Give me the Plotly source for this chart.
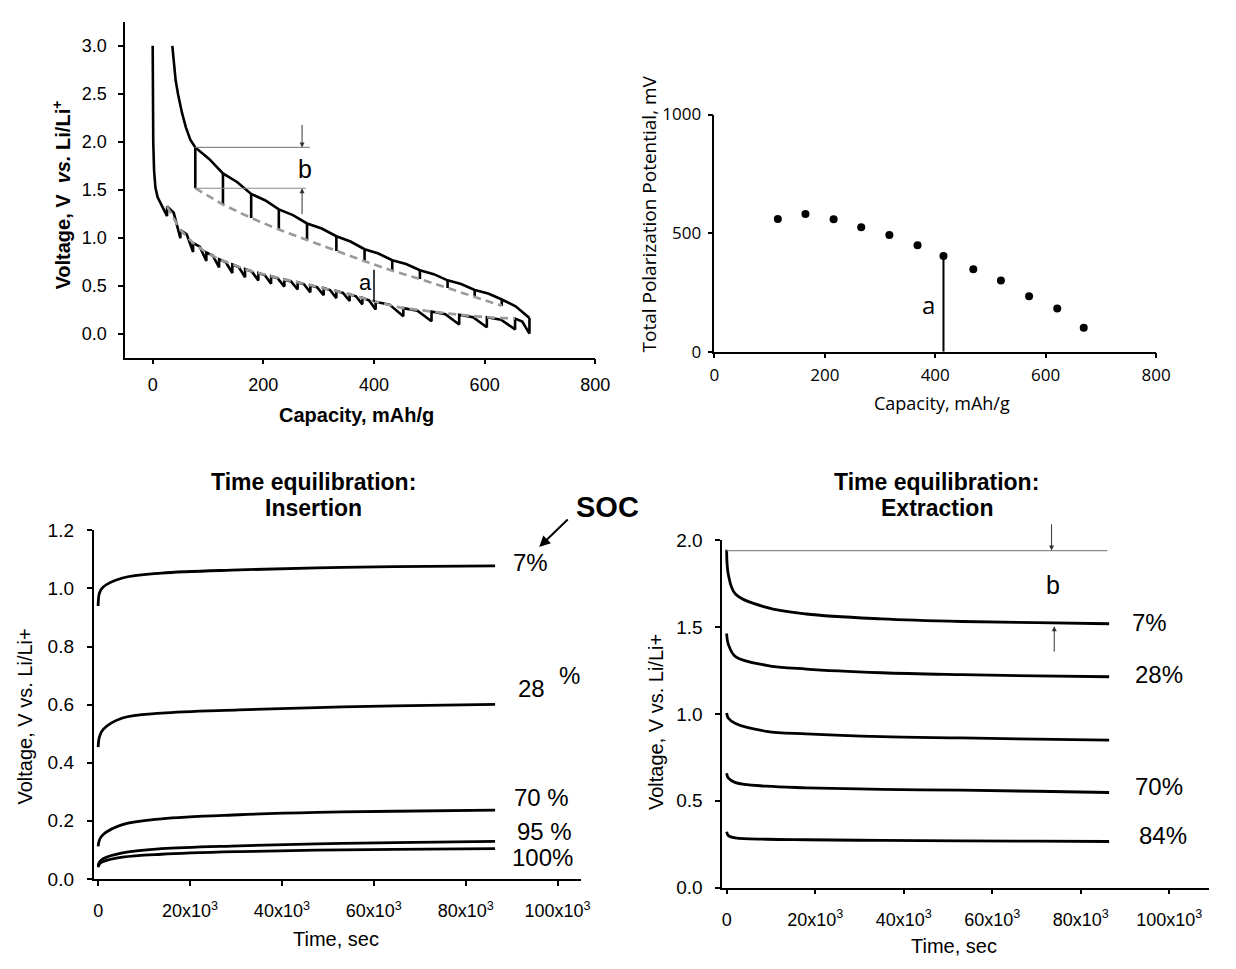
import plotly.graph_objects as go

W, H = 1236, 969
ARIAL = "Liberation Sans, Arial, sans-serif"
MYRIAD = "Open Sans, sans-serif"

# ---------------- panel 1 : GITT voltage profile ----------------
# discharge (lower) branch
dis_start_cap = [0, 0.3, 1, 2.5, 5, 9, 17]
dis_start_v = [3.0, 2.5, 2.0, 1.7, 1.52, 1.42, 1.32]
dis_cap = [26, 50, 73, 97, 120, 144, 167, 191, 214, 238, 262, 285, 309, 332,
           356, 379, 403, 453, 504, 554, 604, 655]
dis_relax_v = [1.325, 1.08, 0.945, 0.845, 0.775, 0.72, 0.672, 0.632, 0.597, 0.565,
               0.535, 0.505, 0.475, 0.445, 0.41, 0.372, 0.332, 0.265, 0.23, 0.197,
               0.17, 0.156]
dis_pulse_v = [1.225, 0.995, 0.85, 0.757, 0.69, 0.632, 0.587, 0.553, 0.52, 0.49,
               0.46, 0.43, 0.40, 0.37, 0.34, 0.305, 0.25, 0.18, 0.128, 0.095,
               0.067, 0.044]
dis_mid_v = [1.259, 1.034, 0.907, 0.814, 0.746, 0.693, 0.648, 0.61, 0.576, 0.544,
             0.514, 0.484, 0.454, 0.424, 0.389, 0.348, 0.302, 0.238, 0.203, 0.171,
             0.145, 0.125]
dis_end_cap = 681
dis_end_v = [0.0, 0.163]

# charge (upper) branch
chg_start_cap = [35.5, 38, 41.5, 46, 53, 60, 68]
chg_start_v = [3.0, 2.83, 2.64, 2.49, 2.3, 2.15, 2.02]
chg_cap = [77, 127, 178, 228, 279, 332, 383, 433, 483, 533, 582, 631]
chg_top_v = [1.94, 1.67, 1.455, 1.295, 1.148, 1.015, 0.88, 0.765, 0.66, 0.555, 0.455, 0.355]
chg_relax_v = [1.515, 1.345, 1.205, 1.085, 0.975, 0.86, 0.755, 0.655, 0.57, 0.475, 0.385, 0.29]
chg_mid_v = [1.82, 1.58, 1.39, 1.235, 1.095, 0.96, 0.835, 0.725, 0.62, 0.517, 0.417, 0.285]

# ---------------- panel 2 : total polarization ----------------
pol_cap = [115, 165, 216, 266, 317, 368, 415, 469, 519, 570, 621, 669]
pol_mv = [560, 581, 559, 525, 492, 449, 404, 348, 300, 234, 182, 101]

# ---------------- panel 3 : insertion relaxation ----------------
t_ins = [0, 300, 1100, 5300, 13800, 30700, 47600, 64500, 86400]
ins_curves = {
    "7%": [0.94, 0.985, 1.005, 1.036, 1.053, 1.064, 1.071, 1.075, 1.078],
    "28%": [0.454, 0.49, 0.515, 0.554, 0.571, 0.582, 0.59, 0.596, 0.601],
    "70%": [0.112, 0.135, 0.153, 0.187, 0.207, 0.221, 0.229, 0.233, 0.237],
    "95%": [0.045, 0.058, 0.07, 0.09, 0.104, 0.114, 0.121, 0.125, 0.129],
    "100%": [0.04, 0.052, 0.06, 0.075, 0.085, 0.094, 0.099, 0.102, 0.104],
}

# ---------------- panel 4 : extraction relaxation ----------------
t_ext = [0, 400, 2000, 9000, 18000, 35000, 53000, 70000, 86400]
ext_curves = {
    "7%": [1.945, 1.80, 1.69, 1.613, 1.575, 1.547, 1.532, 1.525, 1.519],
    "28%": [1.463, 1.40, 1.33, 1.28, 1.258, 1.237, 1.226, 1.219, 1.214],
    "49%": [1.005, 0.975, 0.945, 0.90, 0.885, 0.869, 0.862, 0.855, 0.849],
    "70%": [0.659, 0.63, 0.605, 0.584, 0.575, 0.566, 0.561, 0.555, 0.548],
    "84%": [0.322, 0.30, 0.287, 0.279, 0.276, 0.272, 0.27, 0.268, 0.266],
}

time_ticks = [0, 20000, 40000, 60000, 80000, 100000]
time_ticktext = ["0", "20x10<sup>3</sup>", "40x10<sup>3</sup>", "60x10<sup>3</sup>",
                 "80x10<sup>3</sup>", "100x10<sup>3</sup>"]


def px_x(p):
    return p / W


def px_y(p):
    return 1 - p / H


fig = go.Figure()

# ---- panel 1 traces
xs, ys = list(dis_start_cap), list(dis_start_v)
nxt = dis_cap[1:] + [dis_end_cap]
for c, lo, hi, m, n in zip(dis_cap, dis_pulse_v, dis_relax_v, dis_mid_v, nxt):
    xs += [c, c, (c + n) / 2]
    ys += [lo, hi, m]
xs += [dis_end_cap, dis_end_cap]
ys += dis_end_v
fig.add_trace(go.Scatter(x=xs, y=ys, mode="lines", line=dict(color="black", width=2.6),
                         xaxis="x", yaxis="y"))

xs, ys = list(chg_start_cap), list(chg_start_v)
nxt = chg_cap[1:] + [dis_end_cap]
for c, t, m, n in zip(chg_cap, chg_top_v, chg_mid_v, nxt):
    xs += [c, (c + n) / 2]
    ys += [t, m]
xs += [dis_end_cap]
ys += [dis_end_v[1]]
fig.add_trace(go.Scatter(x=xs, y=ys, mode="lines", line=dict(color="black", width=2.6),
                         xaxis="x", yaxis="y"))

vx, vy = [], []
for c, t, b in zip(chg_cap, chg_top_v, chg_relax_v):
    vx += [c, c, None]
    vy += [t, b, None]
fig.add_trace(go.Scatter(x=vx, y=vy, mode="lines", line=dict(color="black", width=2.6),
                         xaxis="x", yaxis="y"))

fig.add_trace(go.Scatter(x=dis_cap, y=dis_relax_v, mode="lines",
                         line=dict(color="#9a9a9a", width=2.6, dash="8px,5px"),
                         xaxis="x", yaxis="y"))
fig.add_trace(go.Scatter(x=chg_cap, y=chg_relax_v, mode="lines",
                         line=dict(color="#9a9a9a", width=2.6, dash="8px,5px"),
                         xaxis="x", yaxis="y"))

# ---- panel 2
fig.add_trace(go.Scatter(x=pol_cap, y=pol_mv, mode="markers",
                         marker=dict(color="black", size=8), xaxis="x2", yaxis="y2"))

# ---- panel 3
for name, v in ins_curves.items():
    fig.add_trace(go.Scatter(x=t_ins, y=v, mode="lines", line=dict(color="black", width=2.8, shape="spline"),
                             xaxis="x3", yaxis="y3", name=name))

# ---- panel 4
for name, v in ext_curves.items():
    fig.add_trace(go.Scatter(x=t_ext, y=v, mode="lines", line=dict(color="black", width=2.8, shape="spline"),
                             xaxis="x4", yaxis="y4", name=name))


def axis(dom, rng, font, size, standoff, **kw):
    return dict(domain=dom, range=rng, showline=True, linecolor="black", linewidth=1.5,
                ticks="outside", ticklen=5, tickwidth=1.5, tickcolor="black",
                showgrid=False, zeroline=False, fixedrange=True, ticklabelstandoff=standoff,
                tickfont=dict(family=font, size=size, color="black"), **kw)


shapes = [
    # "b" guide lines, panel 1
    dict(type="line", xref="x", yref="y", x0=chg_cap[0], x1=284, y0=chg_top_v[0], y1=chg_top_v[0],
         line=dict(color="#8a8a8a", width=1.2)),
    dict(type="line", xref="x", yref="y", x0=chg_cap[0], x1=277, y0=chg_relax_v[0], y1=chg_relax_v[0],
         line=dict(color="#8a8a8a", width=1.2)),
    # "a" marker, panel 1
    dict(type="line", xref="x", yref="y", x0=400, x1=400, y0=0.33, y1=0.665,
         line=dict(color="black", width=1.5)),
    # "a" marker, panel 2
    dict(type="line", xref="x2", yref="y2", x0=pol_cap[6], x1=pol_cap[6], y0=0, y1=pol_mv[6],
         line=dict(color="black", width=2)),
    # "b" guide line, panel 4
    dict(type="line", xref="x4", yref="y4", x0=0, x1=86000, y0=1.94, y1=1.94,
         line=dict(color="#8a8a8a", width=1.2)),
]


def arrow(xr, yr, x, y, ax_, ay_, color="#333", width=1, size=1.0):
    return dict(xref=xr, yref=yr, axref=xr, ayref=yr, x=x, y=y, ax=ax_, ay=ay_, text="",
                showarrow=True, arrowhead=2, arrowsize=size, arrowwidth=width, arrowcolor=color)


def label(xr, yr, x, y, text, size, family=ARIAL, angle=0):
    return dict(xref=xr, yref=yr, x=x, y=y, text=text, showarrow=False, textangle=angle,
                xanchor="center", yanchor="middle",
                font=dict(family=family, size=size, color="black"))


annotations = [
    # panel 1
    arrow("x", "y", 270, 1.94, 270, 2.19),
    arrow("x", "y", 270, 1.515, 270, 1.23),
    label("x", "y", 276, 1.72, "b", 25),
    label("x", "y", 384, 0.53, "a", 22),
    label("paper", "paper", px_x(57), px_y(188), "<b>Voltage, V&nbsp; <i>vs.</i> Li/Li<sup>+</sup></b>", 20, angle=-90),
    label("paper", "paper", px_x(357), px_y(413), "<b>Capacity, mAh/g</b>", 20),
    # panel 2
    label("x2", "y2", 388, 199, "a", 24, family=MYRIAD),
    label("paper", "paper", px_x(655), px_y(207), "Total Polarization Potential, mV", 19, family=MYRIAD, angle=-90),
    label("paper", "paper", px_x(952), px_y(401), "Capacity, mAh/g", 18, family=MYRIAD),
    # panel 3
    label("paper", "paper", px_x(314), px_y(481), "<b>Time equilibration:</b>", 23),
    label("paper", "paper", px_x(314), px_y(508), "<b>Insertion</b>", 23),
    label("x3", "y3", 94100, 1.091, "7%", 24),
    label("x3", "y3", 94300, 0.655, "28", 24),
    label("x3", "y3", 102500, 0.70, "%", 24),
    label("x3", "y3", 96600, 0.28, "70 %", 24),
    label("x3", "y3", 97100, 0.162, "95 %", 24),
    label("x3", "y3", 96800, 0.073, "100%", 24),
    label("paper", "paper", px_x(20), px_y(722), "Voltage, V vs. Li/Li+", 20, angle=-90),
    label("paper", "paper", px_x(336), px_y(950), "Time, sec", 20),
    label("paper", "paper", px_x(612), px_y(507), "<b>SOC</b>", 29),
    dict(xref="paper", yref="paper", x=px_x(543), y=px_y(548), ax=30, ay=-29, text="",
         showarrow=True, arrowhead=2, arrowsize=1.1, arrowwidth=2, arrowcolor="black"),
    # panel 4
    label("paper", "paper", px_x(947), px_y(481), "<b>Time equilibration:</b>", 23),
    label("paper", "paper", px_x(947), px_y(508), "<b>Extraction</b>", 23),
    label("x4", "y4", 95500, 1.528, "7%", 24),
    label("x4", "y4", 97700, 1.229, "28%", 24),
    label("x4", "y4", 97600, 0.583, "70%", 24),
    label("x4", "y4", 98600, 0.30, "84%", 24),
    arrow("x4", "y4", 73400, 1.94, 73400, 2.10),
    arrow("x4", "y4", 74000, 1.505, 74000, 1.35),
    label("x4", "y4", 73700, 1.743, "b", 25),
    label("paper", "paper", px_x(661), px_y(727), "Voltage, V vs. Li/Li+", 20, angle=-90),
    label("paper", "paper", px_x(965), px_y(957), "Time, sec", 20),
]

fig.update_layout(
    autosize=True, margin=dict(l=0, r=0, t=0, b=0),
    paper_bgcolor="white", plot_bgcolor="white", showlegend=False,
    xaxis=axis([px_x(122), px_x(600)], [-50, 800], ARIAL, 18, 5, anchor="y",
               tickvals=[0, 200, 400, 600, 800]),
    yaxis=axis([px_y(354), px_y(10)], [-0.25, 3.25], ARIAL, 18, 8, anchor="x",
               tickvals=[0, 0.5, 1.0, 1.5, 2.0, 2.5, 3.0], tickformat=".1f"),
    xaxis2=axis([px_x(721), px_x(1170)], [0, 800], MYRIAD, 17, 2, anchor="y2",
                tickvals=[0, 200, 400, 600, 800]),
    yaxis2=axis([px_y(348), px_y(105)], [0, 1000], MYRIAD, 17, 3, anchor="x2",
                tickvals=[0, 500, 1000]),
    xaxis3=axis([px_x(90), px_x(585)], [-1000, 105000], ARIAL, 18, 10, anchor="y3",
                tickvals=time_ticks, ticktext=time_ticktext),
    yaxis3=axis([px_y(888), px_y(531)], [0, 1.2], ARIAL, 19, 9, anchor="x3",
                tickvals=[0, 0.2, 0.4, 0.6, 0.8, 1.0, 1.2], tickformat=".1f"),
    xaxis4=axis([px_x(729), px_x(1224)], [-1000, 109000], ARIAL, 18, 10, anchor="y4",
                tickvals=time_ticks, ticktext=time_ticktext),
    yaxis4=axis([px_y(897), px_y(541)], [0, 2.0], ARIAL, 19, 9, anchor="x4",
                tickvals=[0, 0.5, 1.0, 1.5, 2.0], tickformat=".1f"),
    shapes=shapes,
    annotations=annotations,
)

# pin the plot div to the page corner so the body margin does not shift it
fig.write_html("out.html", config={"displayModeBar": False},
               default_width=f"{W}px;position:absolute;left:0;top:0",
               default_height=f"{H}px")
